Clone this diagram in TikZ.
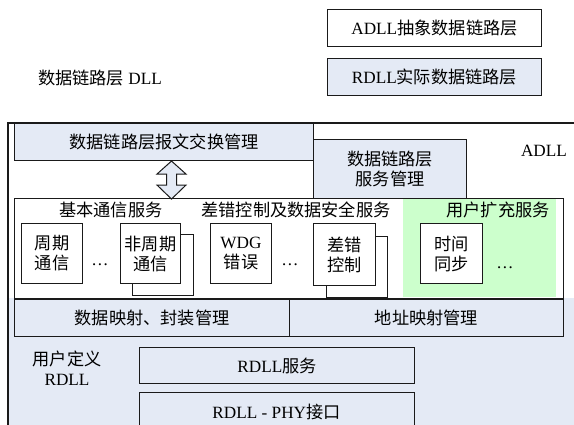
\documentclass[tikz,border=0pt]{standalone}
\usepackage{fontspec}
\setmainfont{Liberation Serif}
\newfontfamily\cjk{Noto Sans CJK SC}
\newcommand\C[1]{{\cjk #1}}
\definecolor{lb}{HTML}{E4EAF5}
\definecolor{lg}{HTML}{CCFFCC}
\definecolor{ln}{HTML}{1A1A1A}
\newcommand\rbox[7]{\node[#1, minimum width={#4pt-#2pt}, minimum height={#5pt-#3pt}, anchor=north west] (#6) at (#2,#3) {#7};}
\tikzset{
  box/.style={draw=ln, line width=1.05pt, fill=white, inner sep=0pt, align=center},
  bbox/.style={box, fill=lb},
  lbl/.style={inner sep=0pt, align=center},
  frame/.style={draw=ln, line width=1.05pt}
}
\begin{document}
\begin{tikzpicture}[x=1pt,y=-1pt, font=\fontsize{17.2}{20}\selectfont]
\useasboundingbox (0,0) rectangle (574,425);
\clip (0,0) rectangle (574,425);
% legend
\rbox{box}{327}{9}{541}{46}{leg1}{ADLL\C{抽象数据链路层}}
\rbox{bbox}{327}{58}{541}{95}{leg2}{RDLL\C{实际数据链路层}}
\node[lbl] (dll) at (100,78) {\C{数据链路层} DLL};
% backgrounds
\fill[lb] (8,298) rectangle (580,432);
\draw[frame] (580,123) -- (8,123) -- (8,432);
% top part
\rbox{bbox}{14}{123}{313}{160}{msg}{\C{数据链路层报文交换管理}}
\rbox{bbox}{313}{139}{466}{198}{smg}{\C{数据链路层}\\\C{服务管理}}
\node[lbl] (adll) at (544,151) {ADLL};
% services
\rbox{box}{14}{198}{563}{298}{svc}{}
\fill[lg] (403,199) rectangle (556,297.4);
\node[lbl] (h1) at (111,210) {\C{基本通信服务}};
\node[lbl] (h2) at (296,210) {\C{差错控制及数据安全服务}};
\node[lbl] (h3) at (498,210) {\C{用户扩充服务}};
\rbox{box}{21}{223}{82}{283}{b1}{\C{周期}\\\C{通信}}
\node[lbl] (d1) at (100,265) {…};
\rbox{box}{132}{234}{193}{295}{b2s}{}
\rbox{box}{120}{223}{180}{283}{b2}{\C{非周期}\\\C{通信}}
\rbox{box}{210}{223}{271}{283}{b3}{WDG\\\C{错误}}
\node[lbl] (d2) at (290,265) {…};
\rbox{box}{326}{236}{387}{297}{b4s}{}
\rbox{box}{313}{223}{375}{285}{b4}{\C{差错}\\\C{控制}}
\rbox{box}{420}{223}{482}{283}{b5}{\C{时间}\\\C{同步}}
\node[lbl] (d3) at (505,268) {…};
% double arrow between msg and svc
\coordinate (at) at (msg.south -| 171.5,0);
\draw[frame, fill=lb, line width=1pt] (at) -- ++(14.5,13) -- ++(-9.5,0) -- ++(0,11) -- ++(9.5,0)
  -- ++(-14.5,14) -- ++(-14.5,-14) -- ++(9.5,0) -- ++(0,-11) -- ++(-9.5,0) -- cycle;
% RDLL part
\rbox{bbox}{14}{299}{289}{336}{map1}{\C{数据映射、封装管理}}
\rbox{bbox}{289}{299}{563}{336}{map2}{\C{地址映射管理}}
\node[lbl] (ud) at (67,368) {\C{用户定义}\\RDLL};
\rbox{bbox}{139}{347}{414}{383}{rs}{RDLL\C{服务}}
\rbox{bbox}{139}{392}{414}{440}{phy}{}
\node[lbl] (phyt) at (276.5,412) {RDLL - PHY\C{接口}};
\end{tikzpicture}
\end{document}
